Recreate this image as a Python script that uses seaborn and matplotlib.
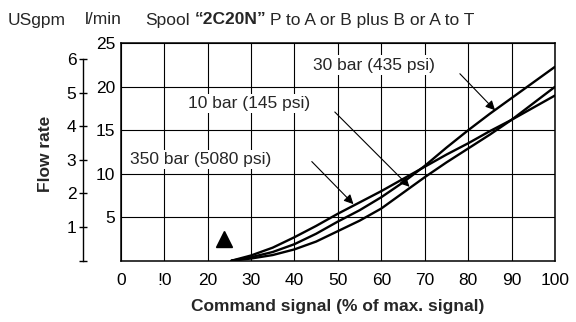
import pandas as pd
import seaborn as sns
import matplotlib
matplotlib.use('Agg')
import matplotlib.pyplot as plt

# Command signal (% of max. signal) where the curves are read
signal = [25.5, 30, 35, 40, 45, 50, 55, 60, 65, 70, 75, 80, 85, 90, 95, 100]

# Flow rate in l/min for each pressure drop
flow_350bar = [0, 0.6, 1.5, 2.7, 4.0, 5.4, 6.7, 8.0, 9.4, 10.8, 12.2, 13.5, 14.9, 16.2, 17.6, 19.0]
flow_30bar = [0, 0.4, 1.0, 1.9, 3.1, 4.5, 5.8, 7.3, 9.0, 10.9, 13.0, 15.0, 16.9, 18.7, 20.5, 22.3]
flow_10bar = [0, 0.25, 0.65, 1.3, 2.2, 3.4, 4.6, 6.0, 7.8, 9.6, 11.3, 12.9, 14.5, 16.2, 18.1, 20.0]

x_ticks = [0, 10, 20, 30, 40, 50, 60, 70, 80, 90, 100]
x_tick_labels = ['0', '!0', '20', '30', '40', '50', '60', '70', '80', '90', '100']
lpm_ticks = [5, 10, 15, 20, 25]
gpm_ticks = [0, 1, 2, 3, 4, 5, 6]
gpm_tick_labels = ['', '1', '2', '3', '4', '5', '6']

# labels: text, text position, arrow tail, arrow tip
curve_labels = [
    ('30 bar (435 psi)', (44.3, 22.5), (78.1, 21.5), (86.2, 17.3)),
    ('10 bar (145 psi)', (15.6, 18.1), (49.3, 17.1), (66.5, 8.5)),
    ('350 bar (5080 psi)', (2.2, 11.6), (44.0, 11.4), (53.6, 6.5)),
]

df = pd.concat([
    pd.DataFrame({'signal': signal, 'flow': flow_350bar, 'pressure': '350 bar'}),
    pd.DataFrame({'signal': signal, 'flow': flow_30bar, 'pressure': '30 bar'}),
    pd.DataFrame({'signal': signal, 'flow': flow_10bar, 'pressure': '10 bar'}),
])

sns.set_style('white')
plt.rcParams['font.family'] = ['Liberation Sans', 'DejaVu Sans']
FS = 12.5

W, H = 576, 322
fig = plt.figure(figsize=(W / 100, H / 100), dpi=100)
left, right, top, bottom = 120.7, 555, 43.3, 260.7
ax = fig.add_axes([left / W, 1 - bottom / H, (right - left) / W, (bottom - top) / H])

sns.lineplot(data=df, x='signal', y='flow', hue='pressure', palette=['black'] * 3,
             legend=False, lw=1.7, ax=ax, zorder=3)

ax.set_xlim(0, 100)
ax.set_ylim(0, 25)
ax.set_xticks(x_ticks)
ax.set_xticklabels(x_tick_labels)
ax.set_yticks(lpm_ticks)
ax.set_yticklabels([str(v) for v in lpm_ticks])
ax.grid(True, color='black', lw=0.8)
ax.tick_params(length=0, labelsize=FS, colors='black')
ax.tick_params(axis='x', pad=9)
ax.tick_params(axis='y', pad=4)
for s in ax.spines.values():
    s.set_color('black')
    s.set_linewidth(1.1)
ax.set_xlabel('Command signal (% of max. signal)', fontsize=FS, fontweight='bold', labelpad=8)
ax.set_ylabel('')

# start marker
ax.plot([23.7], [2.5], marker='^', markersize=12, color='black', ls='none', zorder=4)

for text, xy_text, xy_tail, xy_tip in curve_labels:
    ax.text(xy_text[0], xy_text[1], text, fontsize=FS, va='center', ha='left', zorder=5,
            bbox=dict(facecolor='white', edgecolor='none', pad=1.5))
    ax.annotate('', xy=xy_tip, xytext=xy_tail, zorder=5,
                arrowprops=dict(arrowstyle='-|>', color='black', lw=0.8,
                                mutation_scale=14, shrinkA=0, shrinkB=0))

# USgpm axis
ax2 = fig.add_axes([83.3 / W, 1 - bottom / H, 0.0005, (bottom - top) / H])
ax2.set_facecolor('none')
ax2.set_ylim(0, 6.47)
for k in ['top', 'right', 'bottom']:
    ax2.spines[k].set_visible(False)
ax2.spines['left'].set_bounds(0, 6)
ax2.spines['left'].set_linewidth(1.0)
ax2.spines['left'].set_color('black')
ax2.set_xticks([])
ax2.set_yticks(gpm_ticks)
ax2.set_yticklabels(gpm_tick_labels)
ax2.tick_params(axis='y', direction='inout', length=6, width=1, pad=2, labelsize=FS, left=True, colors='black')

fig.text(45.5 / W, 1 - 154 / H, 'Flow rate', rotation=90, fontsize=FS, fontweight='bold',
         ha='center', va='center')
fig.text(8 / W, 1 - 20 / H, 'USgpm', fontsize=FS, ha='left', va='center')
fig.text(85 / W, 1 - 20 / H, 'l/min', fontsize=FS, ha='left', va='center')
fig.text(145 / W, 1 - 20 / H, 'Spool', fontsize=FS, ha='left', va='center')
fig.text(195 / W, 1 - 20 / H, '\u201c2C20N\u201d', fontsize=FS, fontweight='bold', ha='left', va='center')
fig.text(270 / W, 1 - 20 / H, 'P to A or B plus B or A to T', fontsize=FS, ha='left', va='center')

fig.savefig('out.png', dpi=100, facecolor='white')
